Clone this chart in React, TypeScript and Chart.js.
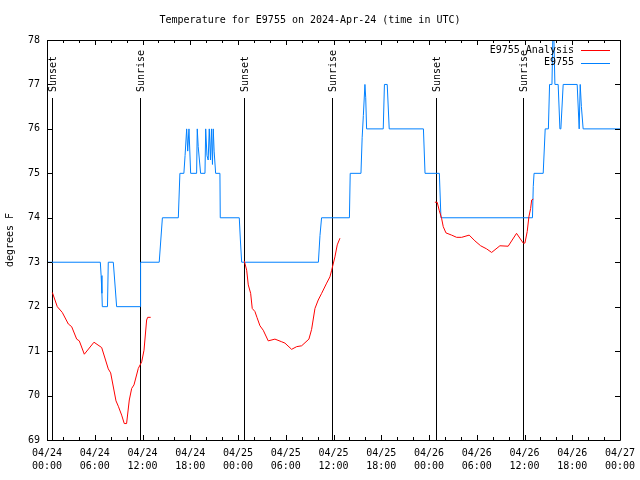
import React, { useEffect, useRef } from "react";
import { Chart, registerables } from "chart.js";
Chart.register(...registerables);

const TITLE = "Temperature for E9755 on 2024-Apr-24 (time in UTC)";
const Y_LABEL = "degrees F";
const X_MIN = 0;
const X_MAX = 72;
const Y_MIN = 69;
const Y_MAX = 78;
const X_TICK_LABELS: string[][] = [
  ["04/24", "00:00"], ["04/24", "06:00"], ["04/24", "12:00"], ["04/24", "18:00"],
  ["04/25", "00:00"], ["04/25", "06:00"], ["04/25", "12:00"], ["04/25", "18:00"],
  ["04/26", "00:00"], ["04/26", "06:00"], ["04/26", "12:00"], ["04/26", "18:00"],
  ["04/27", "00:00"],
];

const SERIES_ANALYSIS = "E9755 Analysis";
const SERIES_OBS = "E9755";

// hours since 04/24 00:00 UTC; null temperature = gap
const ANALYSIS_HOURS = [
  0.67, 1.29, 1.92, 2.68, 3.1, 3.73, 4.06, 4.69, 5.9, 6.87, 7.7, 8.0, 8.67, 8.96, 9.38, 9.71, 10.0, 10.34, 10.64, 10.93, 11.47, 11.9, 12.19, 12.52, 12.65, 13.03,
  18.0,
  24.79, 25.09, 25.29, 25.59, 25.79, 26.13, 26.38, 26.76, 27.17, 27.8, 28.64, 29.49, 29.9, 30.74, 31.37, 32.0, 32.91, 33.25, 33.67, 34.08, 34.51, 35.14, 35.55, 35.77, 36.18, 36.47, 36.81,
  42.0,
  48.74, 49.03, 49.28, 49.58, 49.79, 50.13, 50.84, 51.47, 52.1, 53.05, 53.77, 54.49, 55.24, 55.87, 56.91, 57.95, 59.0, 59.84, 60.05, 60.34, 60.55, 60.77, 60.9, 61.1,
];
const ANALYSIS_TEMPS: (number | null)[] = [
  72.32, 72.0, 71.87, 71.61, 71.55, 71.27, 71.23, 70.93, 71.2, 71.08, 70.6, 70.51, 69.88, 69.76, 69.56, 69.37, 69.37, 69.9, 70.16, 70.24, 70.61, 70.76, 71.02, 71.7, 71.76, 71.76,
  null,
  73.03, 72.82, 72.49, 72.3, 71.96, 71.89, 71.76, 71.57, 71.47, 71.23, 71.27, 71.21, 71.18, 71.04, 71.1, 71.12, 71.27, 71.49, 71.96, 72.15, 72.3, 72.53, 72.67, 72.82, 73.12, 73.39, 73.54,
  null,
  74.35, 74.35, 74.17, 73.99, 73.8, 73.66, 73.61, 73.56, 73.56, 73.61, 73.48, 73.37, 73.3, 73.22, 73.37, 73.36, 73.65, 73.43, 73.43, 73.69, 74.02, 74.21, 74.4, 74.42,
];

const OBS_HOURS = [
  0, 6.7, 6.8, 6.9, 6.95, 7.6, 7.7, 8.33, 8.5, 8.75, 11.72, 11.76, 14.1, 14.5, 16.5, 16.7, 17.2, 17.35, 17.55, 17.68, 17.84, 18.05, 18.8, 18.88, 19.0, 19.3,
  19.85, 19.94, 20.1, 20.25, 20.39, 20.54, 20.67, 20.79, 20.89, 21.0, 21.19, 21.73, 21.77, 24.16, 24.3, 24.46, 34.1, 34.3, 34.5, 38.0, 38.1, 39.45, 39.6, 39.75,
  39.95, 40.05, 40.16, 42.25, 42.4, 42.75, 43.0, 47.3, 47.5, 49.3, 49.5, 61.0, 61.1, 61.2, 62.35, 62.6, 63.0, 63.15, 63.45, 63.55, 63.7, 63.82, 64.23, 64.45,
  64.57, 64.86, 66.62, 66.87, 67.0, 67.15, 67.37, 72,
];
const OBS_TEMPS = [
  73, 73, 72.7, 72.3, 72, 72, 73, 73, 72.6, 72, 72, 73, 73, 74, 74, 75, 75, 75.4, 76, 75.5, 76, 75, 75, 76, 75.6, 75,
  75, 76, 75.4, 75.3, 76, 75.3, 76, 75.2, 76, 75.5, 75, 75, 74, 74, 73.5, 73, 73, 73.6, 74, 74, 75, 75, 75.8, 76.3,
  77, 76.7, 76, 76, 77, 77, 76, 76, 75, 75, 74, 74, 74.7, 75, 75, 76, 76, 77, 77, 78, 78, 77, 77, 76,
  76, 77, 77, 76, 77, 76.5, 76, 76,
];

const SUN_EVENT_HOURS = [0.67, 11.7, 24.8, 35.8, 48.9, 59.8];
const SUN_EVENT_LABELS = ["Sunset", "Sunrise", "Sunset", "Sunrise", "Sunset", "Sunrise"];

const FONT = "'DejaVu Sans Mono', monospace";
const RED = "#ff0000";
const BLUE = "#0080ff";

const gnuplotPlugin = {
  id: "gnuplotDecor",
  beforeDatasetsDraw(chart: any) {
    const { ctx, chartArea } = chart;
    const xs = chart.scales.x;
    ctx.save();
    ctx.strokeStyle = "#000";
    ctx.lineWidth = 1;
    ctx.fillStyle = "#000";
    ctx.font = `10px ${FONT}`;
    SUN_EVENT_HOURS.forEach((h, i) => {
      const x = Math.round(xs.getPixelForValue(h)) + 0.5;
      ctx.beginPath();
      ctx.moveTo(x, 98);
      ctx.lineTo(x, chartArea.bottom);
      ctx.stroke();
      ctx.save();
      ctx.translate(x + 1, 92);
      ctx.rotate(-Math.PI / 2);
      ctx.textAlign = "left";
      ctx.textBaseline = "middle";
      ctx.fillText(SUN_EVENT_LABELS[i], 0, 0);
      ctx.restore();
    });
    ctx.restore();
  },
  afterDatasetsDraw(chart: any) {
    const { ctx, chartArea } = chart;
    const xs = chart.scales.x;
    const ys = chart.scales.y;
    const L = chartArea.left, R = chartArea.right, T = chartArea.top, B = chartArea.bottom;
    ctx.save();
    ctx.strokeStyle = "#000";
    ctx.lineWidth = 1;
    ctx.beginPath();
    ctx.rect(Math.round(L) + 0.5, Math.round(T) + 0.5, Math.round(R - L), Math.round(B - T));
    ctx.stroke();
    // x ticks: major every 6 h, minor every 2 h, inward on bottom and top
    for (let h = X_MIN; h <= X_MAX; h += 2) {
      const x = Math.round(xs.getPixelForValue(h)) + 0.5;
      const len = h % 6 === 0 ? 5 : 3;
      ctx.beginPath();
      ctx.moveTo(x, B);
      ctx.lineTo(x, B - len);
      ctx.moveTo(x, T);
      ctx.lineTo(x, T + len);
      ctx.stroke();
    }
    for (let v = Y_MIN; v <= Y_MAX; v += 1) {
      const y = Math.round(ys.getPixelForValue(v)) + 0.5;
      ctx.beginPath();
      ctx.moveTo(L, y);
      ctx.lineTo(L + 5, y);
      ctx.moveTo(R, y);
      ctx.lineTo(R - 5, y);
      ctx.stroke();
    }
    // legend
    ctx.font = `10px ${FONT}`;
    ctx.fillStyle = "#000";
    ctx.textAlign = "right";
    ctx.textBaseline = "middle";
    const entries = [
      { label: SERIES_ANALYSIS, color: RED, y: 50 },
      { label: SERIES_OBS, color: BLUE, y: 62.5 },
    ];
    entries.forEach((e) => {
      ctx.fillText(e.label, 574, e.y);
      ctx.strokeStyle = e.color;
      ctx.beginPath();
      ctx.moveTo(581, Math.round(e.y) + 0.5);
      ctx.lineTo(610, Math.round(e.y) + 0.5);
      ctx.stroke();
    });
    ctx.restore();
  },
};

export default function App() {
  const ref = useRef<HTMLCanvasElement | null>(null);
  useEffect(() => {
    document.body.style.margin = "0";
    const canvas = ref.current;
    if (!canvas) return;
    const analysisData = ANALYSIS_HOURS.map((h, i) => ({ x: h, y: ANALYSIS_TEMPS[i] }));
    const obsData = OBS_HOURS.map((h, i) => ({ x: h, y: OBS_TEMPS[i] }));
    const chart = new Chart(canvas, {
      type: "line",
      data: {
        datasets: [
          {
            label: SERIES_ANALYSIS,
            data: analysisData as any,
            borderColor: RED,
            borderWidth: 1,
            pointRadius: 0,
            spanGaps: false,
            tension: 0,
          },
          {
            label: SERIES_OBS,
            data: obsData as any,
            borderColor: BLUE,
            borderWidth: 1,
            pointRadius: 0,
            tension: 0,
          },
        ],
      },
      options: {
        responsive: false,
        animation: false,
        layout: { padding: { left: 0, right: 20, top: 0, bottom: 0 } },
        plugins: {
          legend: { display: false },
          tooltip: { enabled: false },
          title: {
            display: true,
            text: TITLE,
            color: "#000",
            font: { family: FONT, size: 10, weight: "normal", lineHeight: 1 },
            padding: { top: 15, bottom: 15 },
          },
        },
        scales: {
          x: {
            type: "linear",
            min: X_MIN,
            max: X_MAX,
            grid: { display: false, drawTicks: false },
            border: { display: false },
            afterFit: (s: any) => {
              s.height = 40;
              s.paddingLeft = 0;
              s.paddingRight = 0;
            },
            ticks: {
              stepSize: 6,
              autoSkip: false,
              maxRotation: 0,
              padding: 7,
              color: "#000",
              font: { family: FONT, size: 10, lineHeight: 1.3 },
              callback: (v: any) => X_TICK_LABELS[Math.round(Number(v) / 6)] ?? "",
            },
          },
          y: {
            type: "linear",
            min: Y_MIN,
            max: Y_MAX,
            grid: { display: false, drawTicks: false },
            border: { display: false },
            afterFit: (s: any) => {
              s.width = 47;
              s.paddingTop = 0;
              s.paddingBottom = 0;
            },
            title: {
              display: true,
              text: Y_LABEL,
              color: "#000",
              font: { family: FONT, size: 10, lineHeight: 1.2 },
              padding: { top: 4, bottom: 0 },
            },
            ticks: {
              stepSize: 1,
              padding: 7,
              color: "#000",
              font: { family: FONT, size: 10 },
            },
          },
        },
      },
      plugins: [gnuplotPlugin],
    });
    return () => chart.destroy();
  }, []);
  return (
    <canvas ref={ref} width={640} height={480} style={{ display: "block", width: 640, height: 480 }} />
  );
}
